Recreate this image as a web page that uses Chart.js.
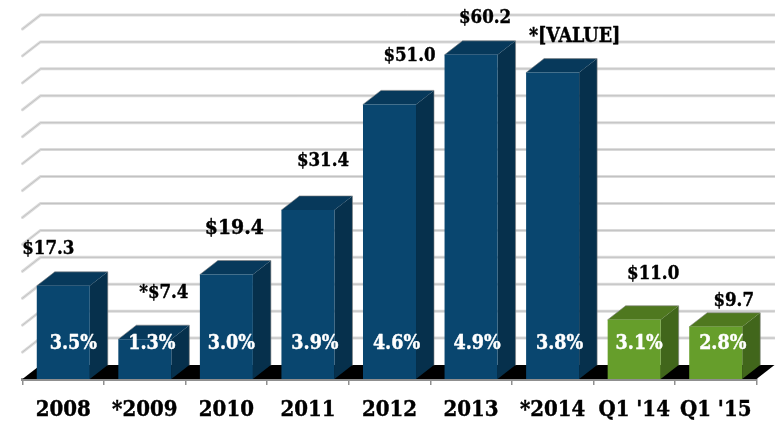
<!DOCTYPE html>
<html>
<head>
<meta charset="utf-8">
<script src="https://cdn.jsdelivr.net/npm/chart.js@4"></script>
<style>
  html, body { margin: 0; padding: 0; background: #fff; }
  canvas { display: block; }
</style>
</head>
<body>
<canvas id="canvas" width="775" height="424"></canvas>
<script>
const categories = ['2008', '*2009', '2010', '2011', '2012', '2013', '*2014', "Q1 '14", "Q1 '15"]
const revenue = [17.3, 7.4, 19.4, 31.4, 51.0, 60.2, 56.9, 11.0, 9.7]
const revenueLabels = ['$17.3', '*$7.4', '$19.4', '$31.4', '$51.0', '$60.2', '*[VALUE]', '$11.0', '$9.7']
const percents = ['3.5%', '1.3%', '3.0%', '3.9%', '4.6%', '4.9%', '3.8%', '3.1%', '2.8%']
const quarterStart = 7

// placement of the text, relative to the bar
const labelShift = [[-15, -37], [19, -46], [8, -46], [15, -49], [20, -48], [14, -37], [22, -36], [19, -46], [18, -26]]
const labelSize = [18.5, 18.5, 21, 18.5, 18.5, 18.5, 19.5, 18.5, 18.5]
const percentShift = [10, 7, 5, 7, 7, 6, 7, 5, 7]

const depthX = 18
const depthY = 14
const font = '"DejaVu Serif Condensed", "DejaVu Serif"'

const faces = (i) => i >= quarterStart
    ? { top: '#4f781f', side: '#41661b' }
    : { top: '#07395b', side: '#06304c' }

const depth3d = {
    id: 'depth3d',
    beforeDatasetsDraw(chart) {
        const { ctx, chartArea, scales } = chart
        const { left, right, bottom } = chartArea

        // back wall lines, from the library's y ticks
        scales.y.ticks.forEach(t => {
            if (t.value === 0) return
            const y = scales.y.getPixelForValue(t.value)
            const path = () => {
                ctx.beginPath()
                ctx.moveTo(left, y)
                ctx.lineTo(left + depthX, y - depthY)
                ctx.lineTo(right + depthX, y - depthY)
                ctx.stroke()
            }
            ctx.lineJoin = 'round'
            ctx.lineCap = 'round'
            ctx.strokeStyle = '#dcdcdc'
            ctx.lineWidth = 3
            path()
            ctx.strokeStyle = '#c2c2c2'
            ctx.lineWidth = 1
            path()
        })

        // floor
        ctx.fillStyle = '#000'
        ctx.beginPath()
        ctx.moveTo(left, bottom)
        ctx.lineTo(left + depthX, bottom - depthY)
        ctx.lineTo(right + depthX, bottom - depthY)
        ctx.lineTo(right, bottom)
        ctx.closePath()
        ctx.fill()

        // top and side of every bar
        chart.getDatasetMeta(0).data.forEach((bar, i) => {
            const p = bar.getProps(['x', 'y', 'base', 'width'], true)
            const x0 = p.x - p.width / 2
            const x1 = p.x + p.width / 2
            const c = faces(i)
            ctx.fillStyle = c.top
            ctx.beginPath()
            ctx.moveTo(x0, p.y)
            ctx.lineTo(x0 + depthX, p.y - depthY)
            ctx.lineTo(x1 + depthX, p.y - depthY)
            ctx.lineTo(x1, p.y)
            ctx.closePath()
            ctx.fill()
            ctx.fillStyle = c.side
            ctx.beginPath()
            ctx.moveTo(x1, p.y)
            ctx.lineTo(x1 + depthX, p.y - depthY)
            ctx.lineTo(x1 + depthX, p.base - depthY)
            ctx.lineTo(x1, p.base)
            ctx.closePath()
            ctx.fill()
            // faint grey edge on the outside of the box
            ctx.strokeStyle = 'rgba(130,130,130,0.6)'
            ctx.lineWidth = 1
            ctx.beginPath()
            ctx.moveTo(x0, p.y)
            ctx.lineTo(x0 + depthX, p.y - depthY)
            ctx.lineTo(x1 + depthX, p.y - depthY)
            ctx.lineTo(x1 + depthX, p.base - depthY)
            ctx.stroke()
        })
    },
    afterDatasetsDraw(chart) {
        const { ctx, scales } = chart
        ctx.textAlign = 'center'
        ctx.textBaseline = 'middle'
        ctx.lineWidth = 0.4
        chart.getDatasetMeta(0).data.forEach((bar, i) => {
            const p = bar.getProps(['x', 'y'], true)
            ctx.fillStyle = '#000'
            ctx.strokeStyle = '#000'
            ctx.font = `bold ${labelSize[i]}px ${font}`
            ctx.fillText(revenueLabels[i], p.x + labelShift[i][0], p.y + labelShift[i][1])
            ctx.strokeText(revenueLabels[i], p.x + labelShift[i][0], p.y + labelShift[i][1])
            ctx.fillStyle = '#fff'
            ctx.strokeStyle = '#fff'
            ctx.font = `bold 19.5px ${font}`
            ctx.fillText(percents[i], p.x + percentShift[i], scales.y.getPixelForValue(6.5))
            ctx.strokeText(percents[i], p.x + percentShift[i], scales.y.getPixelForValue(6.5))
        })
    }
}

const chart = new Chart(document.getElementById('canvas').getContext('2d'), {
    type: 'bar',
    data: {
        labels: categories,
        datasets: [{
            data: revenue,
            backgroundColor: categories.map((c, i) => i >= quarterStart ? '#669e2b' : '#09466f'),
            borderWidth: 0,
            barPercentage: 0.65,
            categoryPercentage: 1
        }]
    },
    options: {
        responsive: false,
        animation: false,
        layout: { padding: { left: 22.5, right: 18.5, top: 29, bottom: 0 } },
        plugins: { legend: { display: false }, tooltip: { enabled: false } },
        scales: {
            x: {
                afterFit: (scale) => { scale.height = 45 },
                border: { color: '#8f8f8f', width: 3 },
                grid: { drawOnChartArea: false, color: '#8f8f8f', tickLength: 6, lineWidth: 1.5 },
                ticks: {
                    color: '#000',
                    font: { family: font, size: 22, weight: 'bold', lineHeight: 1 },
                    textStrokeColor: '#000',
                    textStrokeWidth: 0.4,
                    maxRotation: 0,
                    autoSkip: false,
                    padding: 14
                }
            },
            y: {
                display: false,
                min: 0,
                max: 65,
                ticks: { stepSize: 5 }
            }
        }
    },
    plugins: [depth3d]
})
</script>
</body>
</html>
